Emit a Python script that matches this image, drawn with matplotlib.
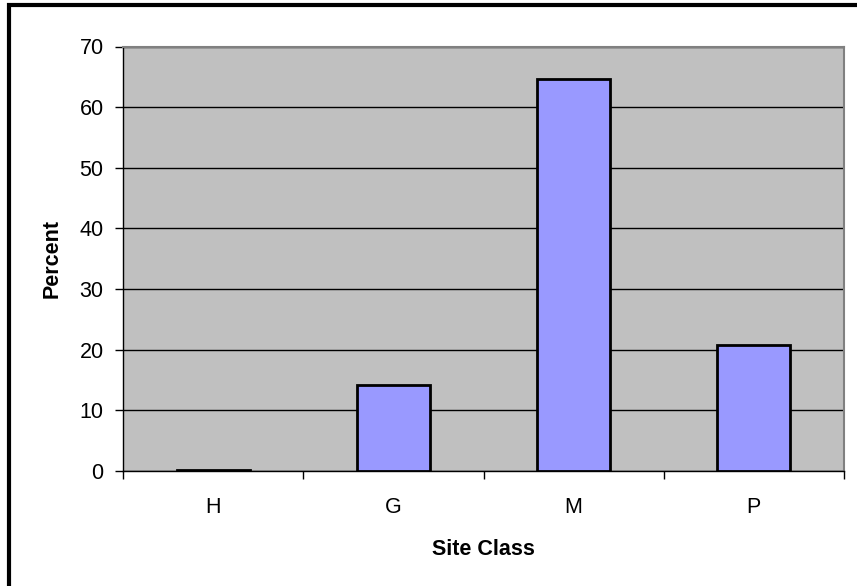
import matplotlib.pyplot as plt
import matplotlib.patches as pat
import numpy as np

plt.rcParams['font.family'] = ['Liberation Sans', 'DejaVu Sans']

# data
categories = ['H', 'G', 'M', 'P']
percent = [0.2, 14.1, 64.7, 20.8]
yticks = [0, 10, 20, 30, 40, 50, 60, 70]

# style
W, H = 857, 586
bar_color = '#9999FF'
bg_color = '#C0C0C0'
fsize = 15.5

fig = plt.figure(figsize=(W/100, H/100), dpi=100)
ax = fig.add_axes([123/W, 1-471/H, (844-123)/W, (471-46.5)/H])
ax.set_facecolor(bg_color)

x = np.arange(len(categories))
ax.bar(x, percent, width=0.405, color=bar_color, edgecolor='black', linewidth=2, zorder=3)
ax.set_xlim(-0.5, len(categories)-0.5)
ax.set_ylim(0, 70)

# gridlines
ax.set_yticks(yticks)
ax.yaxis.grid(True, color='black', linewidth=1, zorder=1)
ax.set_axisbelow(True)

# ticks
ax.set_xticks(x)
ax.set_xticklabels(categories, fontsize=fsize)
ax.tick_params(axis='x', length=0, pad=19)
ax.set_xticks(np.arange(-0.5, len(categories)), minor=True)
ax.tick_params(axis='x', which='minor', length=6, direction='out', width=1)
ax.tick_params(axis='y', length=6, direction='out', width=1, labelsize=fsize, pad=8)

for side in ['top', 'right']:
    ax.spines[side].set_color('#808080')
    ax.spines[side].set_linewidth(1.5)
for side in ['left', 'bottom']:
    ax.spines[side].set_color('black')
    ax.spines[side].set_linewidth(1)

ax.set_xlabel('Site Class', fontsize=fsize, fontweight='bold', labelpad=15)
ax.set_ylabel('Percent', fontsize=fsize, fontweight='bold', labelpad=12)

# outer chart border
fig.add_artist(pat.Rectangle((9/W, -0.05), 1.2, 1-5/H+0.05, transform=fig.transFigure,
                             fill=False, edgecolor='black', linewidth=3))

fig.savefig('out.png', dpi=100)
